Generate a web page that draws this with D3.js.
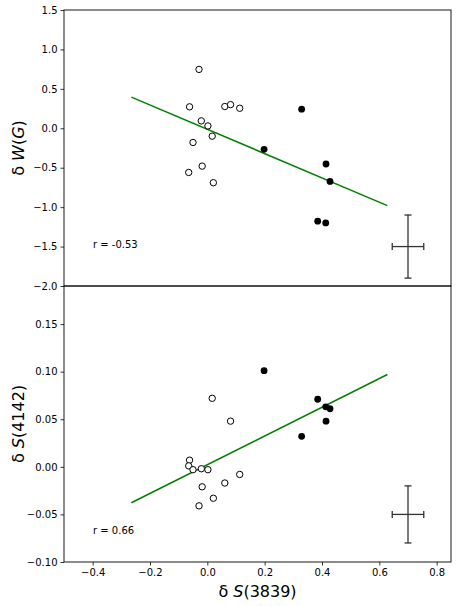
<!DOCTYPE html>
<html>
<head>
<meta charset="utf-8">
<script src="https://cdn.jsdelivr.net/npm/d3@7"></script>
<style>
  body { margin: 0; background: #fff; }
  svg text { font-family: "DejaVu Sans", sans-serif; }
</style>
</head>
<body>
<svg width="463" height="606"></svg>
<script>
// Data
var openX = [-0.029, -0.062, -0.065, 0.061, 0.081, 0.113, -0.021, 0.002, 0.017, -0.050, -0.018, 0.021];
var openW = [0.747, 0.272, -0.56, 0.276, 0.30, 0.254, 0.094, 0.03, -0.10, -0.18, -0.48, -0.69];
var openS = [-0.041, 0.007, 0.001, -0.017, 0.048, -0.008, -0.002, -0.003, 0.072, -0.003, -0.021, -0.033];

var fillX = [0.329, 0.198, 0.414, 0.428, 0.385, 0.413];
var fillW = [0.242, -0.267, -0.453, -0.674, -1.178, -1.20];
var fillS = [0.032, 0.101, 0.048, 0.061, 0.071, 0.063];

// fit line end points
var fitX = [-0.265, 0.628];
var fitW = [0.395, -0.98];
var fitS = [-0.0377, 0.097];

// typical error bar
var errX = 0.70, errDX = 0.055;
var errW = -1.5, errDW = 0.4;
var errS = -0.05, errDS = 0.03;

// r values and where they sit (data units)
var rW = "r = -0.53", rWy = -1.47;
var rS = "r = 0.66", rSy = -0.067;

var xTicks = [-0.4, -0.2, 0.0, 0.2, 0.4, 0.6, 0.8];
var wTicks = [-2.0, -1.5, -1.0, -0.5, 0.0, 0.5, 1.0, 1.5];
var sTicks = [-0.10, -0.05, 0.00, 0.05, 0.10, 0.15];

var svg = d3.select("svg");
var left = 64, right = 451;
var top1 = 10, bot1 = 286, top2 = 286, bot2 = 562;

var x = d3.scaleLinear().domain([-0.5, 0.85]).range([left, right]);
var yW = d3.scaleLinear().domain([-2.0, 1.5]).range([bot1, top1]);
var yS = d3.scaleLinear().domain([-0.10, 0.19]).range([bot2, top2]);

var minus = function (s) { return s.replace("-", "\u2212"); };

function panel(yScale, ticks, fmt, ys, yTop, yBot, rText, rY, label, err, dErr) {
  var g = svg.append("g");

  // y axis
  var ax = g.append("g")
    .attr("transform", "translate(" + left + ",0)")
    .call(d3.axisLeft(yScale).tickValues(ticks).tickSize(3.5).tickPadding(3)
      .tickFormat(function (d) { return minus(d3.format(fmt)(d)); }));
  ax.select(".domain").remove();
  ax.selectAll("text").attr("font-size", 10).attr("fill", "#000");
  ax.selectAll("line").attr("stroke", "#000").attr("stroke-width", 0.8);

  // fit line
  g.append("path")
    .datum(fitX.map(function (d, i) { return [d, ys.fit[i]]; }))
    .attr("d", d3.line().x(function (d) { return x(d[0]); }).y(function (d) { return yScale(d[1]); }))
    .attr("stroke", "#008000").attr("stroke-width", 1.5).attr("fill", "none");

  // open circles
  g.selectAll(".open")
    .data(openX.map(function (d, i) { return [d, ys.open[i]]; }))
    .enter().append("circle")
    .attr("cx", function (d) { return x(d[0]); })
    .attr("cy", function (d) { return yScale(d[1]); })
    .attr("r", 3.2)
    .attr("fill", "#fff").attr("stroke", "#000").attr("stroke-width", 1);

  // filled circles
  g.selectAll(".fill")
    .data(fillX.map(function (d, i) { return [d, ys.fill[i]]; }))
    .enter().append("circle")
    .attr("cx", function (d) { return x(d[0]); })
    .attr("cy", function (d) { return yScale(d[1]); })
    .attr("r", 3.4)
    .attr("fill", "#000");

  // error bar
  var eb = g.append("g").attr("stroke", "#333").attr("stroke-width", 1.3);
  var cx = x(errX), cy = yScale(err);
  eb.append("line").attr("x1", x(errX - errDX)).attr("x2", x(errX + errDX)).attr("y1", cy).attr("y2", cy);
  eb.append("line").attr("x1", cx).attr("x2", cx).attr("y1", yScale(err - dErr)).attr("y2", yScale(err + dErr));
  [errX - errDX, errX + errDX].forEach(function (v) {
    eb.append("line").attr("x1", x(v)).attr("x2", x(v)).attr("y1", cy - 3.5).attr("y2", cy + 3.5);
  });
  [err - dErr, err + dErr].forEach(function (v) {
    eb.append("line").attr("x1", cx - 3.5).attr("x2", cx + 3.5).attr("y1", yScale(v)).attr("y2", yScale(v));
  });

  // r text
  g.append("text")
    .attr("x", 93).attr("y", yScale(rY))
    .attr("dy", "0.35em")
    .attr("font-size", 10)
    .text(rText);

  // frame
  g.append("rect")
    .attr("x", left).attr("y", yTop)
    .attr("width", right - left).attr("height", yBot - yTop)
    .attr("fill", "none").attr("stroke", "#000").attr("stroke-width", 0.9);

  // y label
  var lab = g.append("text")
    .attr("transform", "translate(24," + ((yTop + yBot) / 2) + ") rotate(-90)")
    .attr("text-anchor", "middle")
    .attr("font-size", 16);
  lab.append("tspan").text("\u03b4 ");
  label.forEach(function (p) {
    lab.append("tspan").attr("font-style", p[1] ? "italic" : "normal").text(p[0]);
  });
}

panel(yW, wTicks, ".1f", { open: openW, fill: fillW, fit: fitW }, top1, bot1,
  rW, rWy, [["W", true], ["(", false], ["G", true], [")", false]], errW, errDW);
panel(yS, sTicks, ".2f", { open: openS, fill: fillS, fit: fitS }, top2, bot2,
  rS, rSy, [["S", true], ["(4142)", false]], errS, errDS);

// x axis at bottom
var xa = svg.append("g")
  .attr("transform", "translate(0," + bot2 + ")")
  .call(d3.axisBottom(x).tickValues(xTicks).tickSize(3.5).tickPadding(3)
    .tickFormat(function (d) { return minus(d3.format(".1f")(d)); }));
xa.select(".domain").remove();
xa.selectAll("text").attr("font-size", 10).attr("fill", "#000");
xa.selectAll("line").attr("stroke", "#000").attr("stroke-width", 0.8);

var xl = svg.append("text")
  .attr("x", (left + right) / 2).attr("y", 597)
  .attr("text-anchor", "middle")
  .attr("font-size", 16);
xl.append("tspan").text("\u03b4 ");
xl.append("tspan").attr("font-style", "italic").text("S");
xl.append("tspan").text("(3839)");
</script>
</body>
</html>
